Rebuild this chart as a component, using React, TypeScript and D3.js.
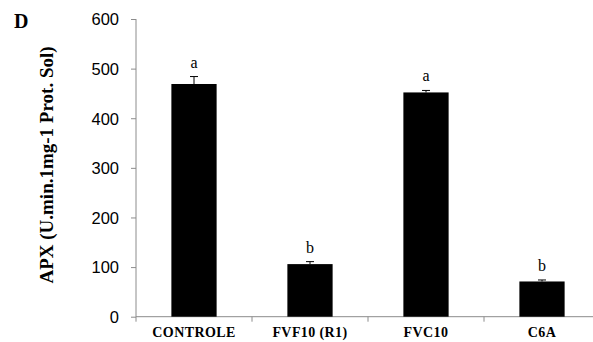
import React, { useEffect, useRef } from "react";
import * as d3 from "d3";

const categories = ["CONTROLE", "FVF10 (R1)", "FVC10", "C6A"];
const values = [469, 106, 452, 71];
const errors = [15, 5, 4, 3];
const letters = ["a", "b", "a", "b"];
const yTicks = [0, 100, 200, 300, 400, 500, 600];

const W = 593;
const H = 342;

export default function App() {
  const ref = useRef<SVGSVGElement | null>(null);

  useEffect(() => {
    const svg = d3.select(ref.current);
    svg.selectAll("*").remove();

    const left = 136, right = 600, top = 19, bottom = 316.7;

    const x = d3.scaleBand().domain(categories).range([left, right]).paddingInner(0.61).paddingOuter(0.305);
    const y = d3.scaleLinear().domain([0, 600]).range([bottom, top]);
    const axisColor = "#8c8c8c";

    // y axis
    const yAxis = svg.append("g")
      .attr("transform", `translate(${left},0)`)
      .call(d3.axisLeft(y).tickValues(yTicks).tickSize(5).tickSizeOuter(0).tickPadding(12));
    yAxis.select(".domain").attr("stroke", axisColor).attr("d", `M0,${top}V${bottom + 5}`);
    yAxis.selectAll(".tick line").attr("stroke", axisColor);
    yAxis.selectAll(".tick text")
      .attr("font-family", "Liberation Sans, Arial, sans-serif")
      .attr("font-size", 16.5)
      .attr("fill", "#000")
      .attr("dy", "0.35em");

    // x axis line and boundary ticks
    const step = x.step();
    svg.append("line")
      .attr("x1", left).attr("x2", right)
      .attr("y1", bottom).attr("y2", bottom)
      .attr("stroke", axisColor);
    categories.forEach((c, i) => {
      const bx = left + step * (i + 1);
      svg.append("line")
        .attr("x1", bx).attr("x2", bx)
        .attr("y1", bottom).attr("y2", bottom + 5)
        .attr("stroke", axisColor);
    });

    // bars
    svg.selectAll(".bar")
      .data(values)
      .enter()
      .append("rect")
      .attr("x", (d, i) => x(categories[i])!)
      .attr("width", x.bandwidth())
      .attr("y", (d) => y(d))
      .attr("height", (d) => bottom - y(d))
      .attr("fill", "#000");

    // error bars and significance letters
    values.forEach((v, i) => {
      const cx = x(categories[i])! + x.bandwidth() / 2;
      svg.append("line")
        .attr("x1", cx).attr("x2", cx)
        .attr("y1", y(v)).attr("y2", y(v + errors[i]))
        .attr("stroke", "#000");
      svg.append("line")
        .attr("x1", cx - 4).attr("x2", cx + 4)
        .attr("y1", y(v + errors[i])).attr("y2", y(v + errors[i]))
        .attr("stroke", "#000");
      svg.append("text")
        .attr("x", cx)
        .attr("y", y(v + errors[i]) - 9)
        .attr("text-anchor", "middle")
        .attr("font-family", "Liberation Serif, Times New Roman, serif")
        .attr("font-size", 16)
        .text(letters[i]);
    });

    // category labels
    categories.forEach((c) => {
      svg.append("text")
        .attr("x", x(c)! + x.bandwidth() / 2)
        .attr("y", 337)
        .attr("text-anchor", "middle")
        .attr("font-family", "Liberation Serif, Times New Roman, serif")
        .attr("font-weight", "bold")
        .attr("font-size", 14)
        .attr("letter-spacing", 0.4)
        .text(c);
    });

    // y title
    svg.append("text")
      .attr("transform", `translate(53,165) rotate(-90)`)
      .attr("text-anchor", "middle")
      .attr("font-family", "Liberation Serif, Times New Roman, serif")
      .attr("font-weight", "bold")
      .attr("font-size", 19)
      .text("APX (U.min.1mg-1 Prot. Sol)");

    svg.append("text")
      .attr("x", 14)
      .attr("y", 28)
      .attr("font-family", "Liberation Serif, Times New Roman, serif")
      .attr("font-weight", "bold")
      .attr("font-size", 20)
      .text("D");
  }, []);

  return (
    <svg
      ref={ref}
      width={W}
      height={H}
      style={{ position: "absolute", left: 0, top: 0, background: "#fff" }}
    />
  );
}
